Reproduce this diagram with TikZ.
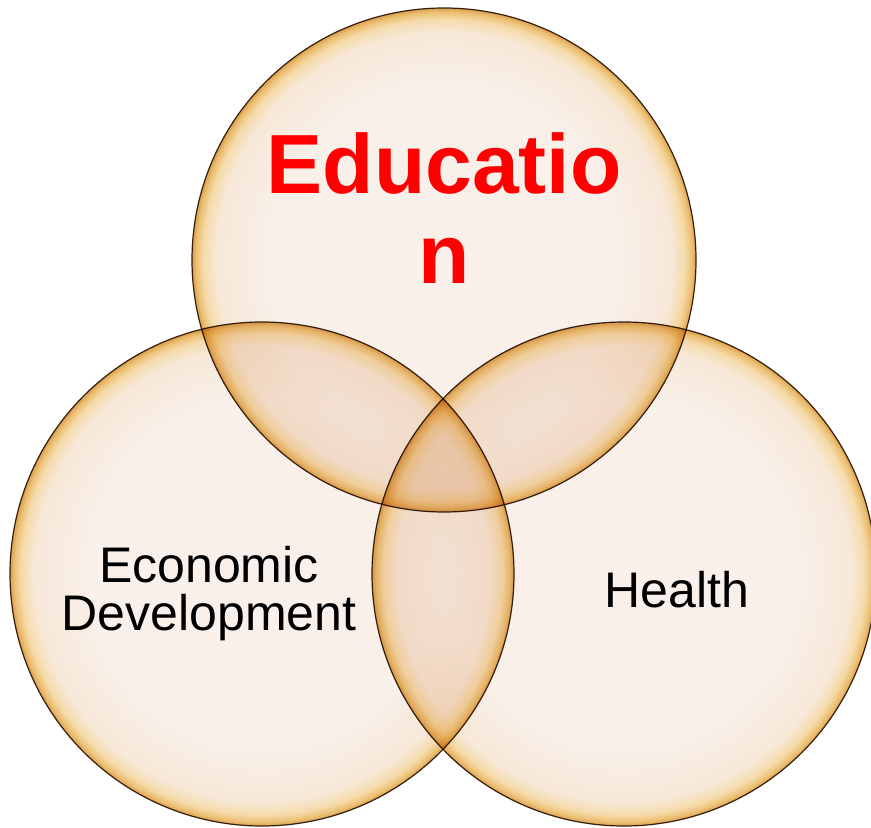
\documentclass[tikz,border=0pt]{standalone}
\usepackage{fontspec}
\setmainfont{Liberation Sans}
\definecolor{cream}{HTML}{F9F0EA}
\definecolor{halo}{HTML}{F7E8D8}
\definecolor{rimlight}{HTML}{F5DBAA}
\definecolor{rimgold}{HTML}{ECBF72}
\definecolor{rimdark}{HTML}{D9A050}
\definecolor{edge}{HTML}{3A2812}
\pgfdeclareradialshading{rim}{\pgfpoint{0bp}{0bp}}{%
  color(0bp)=(cream); color(17bp)=(cream); color(22.6bp)=(halo);
  color(23.9bp)=(rimlight); color(24.6bp)=(rimgold); color(25bp)=(rimdark);
  color(50bp)=(rimdark)}
\tikzset{
  bubble/.style={circle, draw=edge, line width=0.6pt, shading=rim,
    minimum size=252pt, inner sep=0pt},
  label/.style={inner sep=0pt, align=center}
}
\begin{document}
\begin{tikzpicture}[x=0.5pt,y=-0.5pt]
  \fill[white] (0,0) rectangle (871,828);
  \useasboundingbox (0,0) rectangle (871,828);
  \begin{scope}[blend group=multiply]
    \node[bubble] (edu) at (444,260) {};
    \node[bubble] (eco) at (262,574) {};
    \node[bubble] (hea) at (624,574) {};
  \end{scope}
  % labels
  \node[label, text=red, font=\fontsize{42}{45}\selectfont\bfseries]
    (edut) at (444,208) {Educatio\\n};
  \node[label, font=\fontsize{25}{24}\selectfont]
    (ecot) at (209,594) {Economic\\Development};
  \node[label, anchor=base, font=\fontsize{25}{24}\selectfont]
    (heat) at (677,607) {Health};
\end{tikzpicture}
\end{document}
